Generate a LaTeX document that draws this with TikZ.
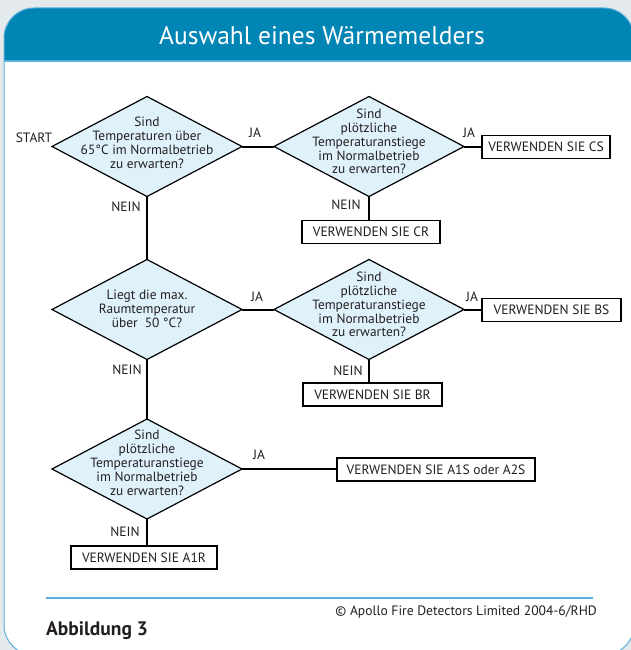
\documentclass[tikz,border=0pt]{standalone}
\usepackage{fontspec}
\setmainfont{PT Sans}
\usetikzlibrary{shapes.geometric}
\definecolor{bgc}{HTML}{E4E9EC}
\definecolor{barc}{HTML}{0085B5}
\definecolor{linec}{HTML}{5AB0DA}
\definecolor{fillc}{HTML}{DFF1FB}
\definecolor{txt}{HTML}{231F20}
\begin{document}
\begin{tikzpicture}[x=1pt,y=-1pt,
  dec/.style={diamond, draw=black, line width=1.2pt, fill=fillc, minimum width=190pt, minimum height=100pt, inner sep=0pt, outer sep=0pt},
  dtext/.style={align=center, font=\fontsize{13.4}{13.9}\selectfont, text=txt, inner sep=0pt},
  res/.style={draw=black, line width=1.5pt, fill=white, font=\fontsize{13.5}{14}\selectfont, text=txt, inner sep=0pt, outer sep=0pt, minimum height=23pt},
  lbl/.style={font=\fontsize{13.5}{14}\selectfont, text=txt, inner sep=0pt},
  conn/.style={line width=2pt, draw=black}]
\useasboundingbox (0,0) rectangle (631,650);
\fill[bgc] (0,0) rectangle (631,650);
\begin{scope}
  \clip (0,0) rectangle (631,650);
  \fill[white, rounded corners=30pt] (4,8) rectangle (634,655);
  \begin{scope}
    \clip[rounded corners=30pt] (4,8) rectangle (634,655);
    \fill[barc] (0,0) rectangle (640,60.5);
    \draw[linec, line width=1.5pt] (0,61) -- (640,61);
  \end{scope}
  \draw[linec, line width=1pt, rounded corners=30pt] (4,8) rectangle (634,655);
\end{scope}
\node[text=white, font=\fontsize{25.5}{28}\selectfont, inner sep=0pt] (title) at (322,36) {Auswahl eines Wärmemelders};

% decisions
\node[dec] (d1) at (147,146.5) {};
\node[dec] (d2) at (369,146.5) {};
\node[dec] (d3) at (147,309.5) {};
\node[dec] (d4) at (369,309.5) {};
\node[dec] (d5) at (147,469) {};

% results
\node[res, minimum width=128pt] (cs) at (546,147) {VERWENDEN SIE CS};
\node[res, minimum width=138pt] (cr) at (371,232) {VERWENDEN SIE CR};
\node[res, minimum width=139pt] (bs) at (551.5,310) {VERWENDEN SIE BS};
\node[res, minimum width=139pt] (br) at (372.5,394.5) {VERWENDEN SIE BR};
\node[res, minimum width=198pt] (a1s) at (436,469.5) {VERWENDEN SIE A1S oder A2S};
\node[res, minimum width=146pt] (a1r) at (144,557.5) {VERWENDEN SIE A1R};

% connectors
\draw[conn] (d1.east) -- (d2.west);
\draw[conn] (d2.east) -- (d2.east -| cs.west);
\draw[conn] (d2.south) -- (d2.south |- cr.north);
\draw[conn] (d1.south) -- (d3.north);
\draw[conn] (d3.east) -- (d4.west);
\draw[conn] (d4.east) -- (d4.east -| bs.west);
\draw[conn] (d4.south) -- (d4.south |- br.north);
\draw[conn] (d3.south) -- (d5.north);
\draw[conn] (d5.east) -- (d5.east -| a1s.west);
\draw[conn] (d5.south) -- (d5.south |- a1r.north);

% decision texts
\node[dtext] (t1) at (147,142.5) {Sind\\Temperaturen über\\65°C im Normalbetrieb\\zu erwarten?};
\node[dtext] (t2) at (369,141.5) {Sind\\plötzliche\\Temperaturanstiege\\im Normalbetrieb\\zu erwarten?};
\node[dtext] (t3) at (147,309) {Liegt die max.\\Raumtemperatur\\über~~50~°C?};
\node[dtext] (t4) at (369,304.5) {Sind\\plötzliche\\Temperaturanstiege\\im Normalbetrieb\\zu erwarten?};
\node[dtext] (t5) at (147,463) {Sind\\plötzliche\\Temperaturanstiege\\im Normalbetrieb\\zu erwarten?};

% labels
\node[lbl] (start) at (34,138) {START};
\node[lbl] (ja1) at (255,133) {JA};
\node[lbl] (nein1) at (126,207) {NEIN};
\node[lbl] (ja2) at (469,133) {JA};
\node[lbl] (nein2) at (346,205) {NEIN};
\node[lbl] (ja3) at (257,297) {JA};
\node[lbl] (nein3) at (127,370) {NEIN};
\node[lbl] (ja4) at (472,297) {JA};
\node[lbl] (nein4) at (348,371) {NEIN};
\node[lbl] (ja5) at (259,455) {JA};
\node[lbl] (nein5) at (125,532) {NEIN};

% footer
\draw[linec, line width=1.3pt] (46,598) -- (593,598);
\node[lbl, anchor=east, font=\fontsize{13.6}{14}\selectfont] (copy) at (597,612) {© Apollo Fire Detectors Limited 2004-6/RHD};
\node[lbl, anchor=west, font=\bfseries\fontsize{19.5}{21}\selectfont] (abb) at (46,631) {Abbildung 3};
\end{tikzpicture}
\end{document}
